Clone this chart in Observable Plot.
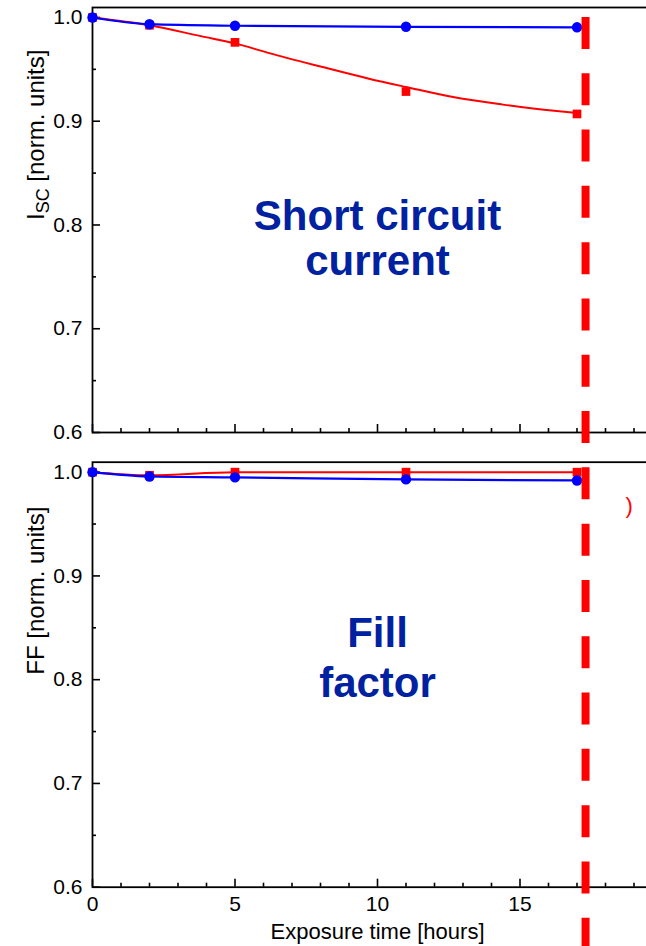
<!DOCTYPE html>
<html><head><meta charset="utf-8">
<script src="https://cdn.jsdelivr.net/npm/d3@7"></script>
<script src="https://cdn.jsdelivr.net/npm/@observablehq/plot@0.6"></script>
<style>
html,body{margin:0;padding:0;background:#fff;overflow:hidden;}
#chart svg{display:block;}
#chart g[aria-label="y-axis tick label"], #chart g[aria-label="x-axis tick label"],
#chart g[aria-label="y-axis tick label"] text, #chart g[aria-label="x-axis tick label"] text {font-size:21px !important;}
</style></head><body><div id="chart"></div>
<script>
// ---- data ----
const hours = [0, 2, 5, 11, 17];
const iscBlue = [1.000, 0.9935, 0.992, 0.991, 0.9905];
const iscRed = [1.000, 0.9925, 0.976, 0.9286, 0.907];
const iscFitHours = [0, 2, 3.8, 5, 6.2, 8, 9.7, 11, 12.7, 14.4, 16.2, 17];
const iscFitRed = [1.000, 0.9925, 0.982, 0.975, 0.9656, 0.9527, 0.941, 0.933, 0.923, 0.916, 0.910, 0.908];
const ffBlue = [1.000, 0.9958, 0.995, 0.993, 0.992];
const ffRed = [1.000, 0.997, 1.000, 1.000, 1.000];
const panels = ["Isc", "FF"];
const yTitles = ["ISC [norm. units]", "FF [norm. units]"];
const panelNotes = ["Short circuit\ncurrent", "Fill\nfactor"];
const markerHour = [17.3];
const yMajor = [0.6, 0.7, 0.8, 0.9, 1.0];
const yMinor = [0.65, 0.75, 0.85, 0.95];
const xMajor = [0, 5, 10, 15, 20];
const xMinor = [1, 2, 3, 4, 6, 7, 8, 9, 11, 12, 13, 14, 16, 17, 18, 19];
const xLabels = [0, 5, 10, 15];
const xTitle = "Exposure time [hours]";

// ---- tables ----
const rows = (panel, xs, ys) => xs.map((t, i) => ({panel, t, v: ys[i]}));
const redPts = [...rows("Isc", hours, iscRed), ...rows("FF", hours, ffRed)];
const bluePts = [...rows("Isc", hours, iscBlue), ...rows("FF", hours, ffBlue)];
const redLines = [...rows("Isc", iscFitHours, iscFitRed), ...rows("FF", hours, ffRed)];
const titleRows = panels.map((p, i) => ({panel: p, text: yTitles[i]}));

const W = 662, H = 946;
const noteColor = "#0021a0";

const plot = Plot.plot({
  width: W, height: H,
  marginLeft: 92, marginRight: 0, marginTop: 7, marginBottom: 59.3,
  style: {fontFamily: "'Liberation Sans', Arial, sans-serif", fontSize: "21px", maxWidth: "none", background: "white", color: "black"},
  x: {domain: [0, 20]},
  y: {domain: [0.6, 1.0096]},
  fy: {domain: panels, axis: null, paddingInner: 0.0653, paddingOuter: 0, round: false},
  marks: [
    Plot.frame({stroke: "black", strokeWidth: 1.8}),
    Plot.tickX(xMajor, {x: d => d, stroke: "black", strokeWidth: 1.6, insetTop: 417}),
    Plot.tickX(xMinor, {x: d => d, stroke: "black", strokeWidth: 1.6, insetTop: 421}),
    Plot.tickY(yMajor, {y: d => d, stroke: "black", strokeWidth: 1.6, insetRight: W - 92 - 8}),
    Plot.tickY(yMinor, {y: d => d, stroke: "black", strokeWidth: 1.6, insetRight: W - 92 - 4}),
    Plot.axisY(yMajor, {tickSize: 0, tickPadding: 10, tickFormat: d3.format(".1f"), fontSize: 21, label: null}),
    Plot.axisX(xLabels, {tickSize: 0, tickPadding: 9, fontSize: 21, label: null, facetAnchor: "bottom"}),
    Plot.line(redLines, {x: "t", y: "v", fy: "panel", z: "panel", stroke: "#ff0000", strokeWidth: 2, curve: "monotone-x"}),
    Plot.dot(redPts, {x: "t", y: "v", fy: "panel", symbol: "square", r: 4.9, fill: "#ff0000"}),
    Plot.line(bluePts, {x: "t", y: "v", fy: "panel", z: "panel", stroke: "#0000ff", strokeWidth: 2.2, curve: "monotone-x"}),
    Plot.dot(bluePts, {x: "t", y: "v", fy: "panel", r: 5.2, fill: "#0000ff"}),
    Plot.text([{panel: "Isc", text: panelNotes[0]}], {x: () => 10, y: () => 0.7873, fy: "panel", text: "text", fontSize: 42, fontWeight: "bold", fill: noteColor, lineHeight: 1.07}),
    Plot.text([{panel: "FF", text: panelNotes[1]}], {x: () => 10, y: () => 0.823, fy: "panel", text: "text", fontSize: 42, fontWeight: "bold", fill: noteColor, lineHeight: 1.2}),
    Plot.text(titleRows, {fy: "panel", text: "text", frameAnchor: "left", rotate: -90, dx: -56, fontSize: 24}),
    Plot.text([{panel: "FF", text: xTitle}], {x: () => 10, fy: "panel", text: "text", frameAnchor: "bottom", lineAnchor: "top", dy: 36, fontSize: 22}),
    Plot.text([{panel: "FF", text: ")"}], {x: () => 18.83, y: () => 0.967, fy: "panel", text: "text", fontSize: 22, fill: "#ff0000"}),
    Plot.ruleX(markerHour.map(t => ({panel: "Isc", t})), {x: "t", y1: () => 1.0, y2: () => 0, fy: "panel", stroke: "#ff0000", strokeWidth: 8, strokeDasharray: "32,24.3"})
  ]
});

// subscript for I_SC
plot.querySelectorAll("text").forEach(t => {
  if (t.textContent === "ISC [norm. units]") {
    const ns = "http://www.w3.org/2000/svg";
    t.textContent = "";
    t.appendChild(document.createTextNode("I"));
    const sub = document.createElementNS(ns, "tspan");
    sub.setAttribute("dy", "5");
    sub.setAttribute("font-size", "18");
    sub.textContent = "SC";
    t.appendChild(sub);
    const rest = document.createElementNS(ns, "tspan");
    rest.setAttribute("dy", "-5");
    rest.textContent = " [norm. units]";
    t.appendChild(rest);
  }
});

document.getElementById("chart").appendChild(plot);
</script></body></html>
